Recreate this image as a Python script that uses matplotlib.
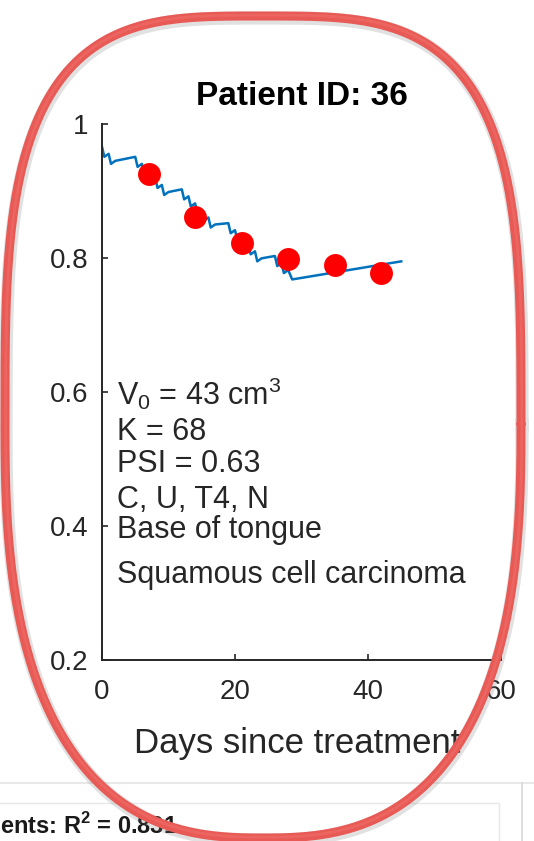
import matplotlib.pyplot as plt
import numpy as np

plt.rcParams["font.family"] = ["Liberation Sans", "DejaVu Sans"]
plt.rcParams["mathtext.fontset"] = "custom"
plt.rcParams["mathtext.rm"] = "Liberation Sans"
plt.rcParams["mathtext.bf"] = "Liberation Sans:bold"

# measured relative volumes (weekly scans)
obs_days = [7, 14, 21, 28, 35, 42]
obs_volume = [0.925, 0.861, 0.822, 0.799, 0.789, 0.778]

# model curve: drop at each fraction, regrowth in between
model_days = [0, 0.35, 1, 1.35, 2,
              5, 5.35, 6, 6.35, 7, 7.35, 8, 8.35, 9, 9.35, 10,
              12, 12.35, 13, 13.35, 14, 14.35, 15, 15.35, 16, 16.35, 17,
              19, 19.35, 20, 20.35, 21, 21.35, 22, 22.35, 23, 23.35, 24,
              26, 26.35, 27, 27.35, 28, 28.6, 45]
model_volume = [0.966, 0.951, 0.9555, 0.9405, 0.945,
                0.951, 0.936, 0.9405, 0.9255, 0.930, 0.915, 0.9195, 0.9045, 0.909, 0.894, 0.8985,
                0.9025, 0.8875, 0.892, 0.877, 0.8815, 0.8665, 0.871, 0.856, 0.8605, 0.8455, 0.850,
                0.852, 0.837, 0.8415, 0.8265, 0.831, 0.816, 0.8205, 0.8055, 0.810, 0.795, 0.7995,
                0.803, 0.788, 0.7925, 0.7775, 0.782, 0.768, 0.795]

x_ticks = [0, 20, 40, 60]
y_ticks = [0.2, 0.4, 0.6, 0.8, 1.0]
y_tick_labels = ["0.2", "0.4", "0.6", "0.8", "1"]

info_lines = [r"V$_\mathregular{0}$ = 43 cm$^\mathregular{3}$",
              "K = 68",
              "PSI = 0.63",
              "C, U, T4, N",
              "Base of tongue",
              "Squamous cell carcinoma"]
info_y = [0.581, 0.528, 0.481, 0.427, 0.382, 0.315]

W, H = 534, 841
fig = plt.figure(figsize=(W / 100, H / 100), dpi=100)
fig.patch.set_facecolor("white")

ax = fig.add_axes([102 / W, 1 - 660 / H, 399 / W, 536 / H])
ax.plot(model_days, model_volume, color="#0072BD", lw=1.8, zorder=2)
ax.plot(obs_days, obs_volume, "o", color="#ff0000", ms=16.5, mec="none", zorder=3)

for s, yy in zip(info_lines, info_y):
    ax.text(2.2, yy, s, fontsize=22, color="#262626", va="baseline", ha="left")

ax.set_xlim(0, 60)
ax.set_ylim(0.2, 1.0)
ax.set_xticks(x_ticks)
ax.set_yticks(y_ticks)
ax.set_yticklabels(y_tick_labels)
for side in ["top", "right"]:
    ax.spines[side].set_visible(False)
for side in ["left", "bottom"]:
    ax.spines[side].set_linewidth(1.4)
    ax.spines[side].set_color("#262626")
ax.tick_params(direction="in", length=4, width=1.2, color="#262626",
               labelsize=20, labelcolor="#262626")
ax.tick_params(axis="x", pad=14)
ax.tick_params(axis="y", pad=10)
ax.set_title("Patient ID: 36", fontsize=24, fontweight="bold", pad=14)
ax.set_xlabel("Days since treatment", fontsize=25, color="#262626")
ax.xaxis.set_label_coords(0.49, -0.125)

# overlay in pixel coordinates: screenshot leftovers and the red hand-drawn ring
ov = fig.add_axes([0, 0, 1, 1], zorder=10)
ov.set_xlim(0, W)
ov.set_ylim(H, 0)
ov.axis("off")
ov.patch.set_alpha(0)

ov.plot([0, W], [783, 783], color="#e4e4e4", lw=1.2, zorder=1)
ov.plot([0, 499, 499], [803, 803, H], color="#e8e8e8", lw=1.0, zorder=1)
ov.plot([522, 522], [783, H], color="#d8d8d8", lw=1.2, zorder=1)
ov.text(0, 834, r"ents: R$^\mathbf{2}$ = 0.831", fontsize=17, fontweight="bold",
        color="#1a1a1a", ha="left", va="baseline", zorder=2)

# ring: squarer on top, rounder at the bottom
t = np.linspace(0, 2 * np.pi, 800)
c, s = np.cos(t), np.sin(t)
top = s < 0
n = np.where(top, 3.4, 2.6)
b = np.where(top, 408, 414)
ex = 263 + 258 * np.sign(c) * np.abs(c) ** (2 / n)
ey = 424 + b * np.sign(s) * np.abs(s) ** (2 / n)
ov.plot(ex + 1, ey + 2, color="#777777", lw=9.5, alpha=0.22, zorder=4)
ov.plot(ex, ey, color="#e85a55", lw=6.5, zorder=5, solid_capstyle="round")
ov.plot(ex + 0.8, ey - 0.8, color="#ef6e68", lw=2, alpha=0.6, zorder=6)

fig.savefig("out.png", dpi=100, facecolor="white")
